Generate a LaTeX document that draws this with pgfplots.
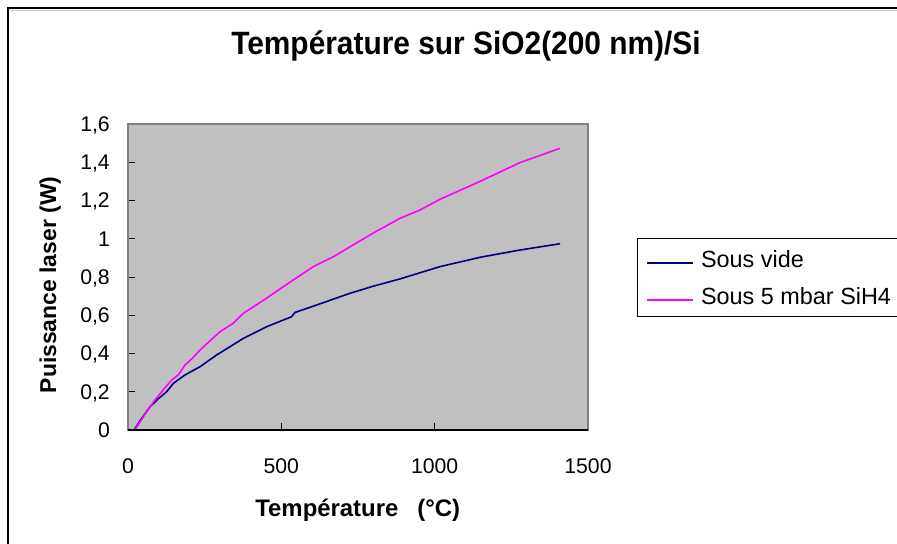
\documentclass[border=0pt]{standalone}
\usepackage{pgfplots}
\pgfplotsset{compat=1.18}
\usepackage{fontspec}
\setmainfont{Liberation Sans}
\definecolor{plotgray}{HTML}{C0C0C0}
\definecolor{frame}{HTML}{808080}
\definecolor{navyline}{HTML}{000080}
\definecolor{magline}{HTML}{FF00FF}
\begin{document}
\begin{tikzpicture}
\path[use as bounding box] (0,0) rectangle (897bp,544bp);
\draw[black, line width=1.6bp] (8bp,0bp) -- (8bp,536bp) -- (897bp,536bp);
\draw[gray!45, line width=0.8bp] (9.5bp,534bp) -- (897bp,534bp);
\begin{axis}[
  at={(128bp,114bp)}, anchor=south west,
  width=460bp, height=306bp, scale only axis,
  xmin=0, xmax=1500, ymin=0, ymax=1.6,
  xtick={0,500,1000,1500},
  ytick={0,0.2,0.4,0.6,0.8,1,1.2,1.4,1.6},
  tick pos=left, tick align=inside,
  major tick length=7bp,
  tick style={black, line width=0.8bp},
  axis background/.style={fill=plotgray},
  axis line style={draw=frame, line width=1.2bp},
  clip=false,
  /pgf/number format/assume math mode=true,
  /pgf/number format/use comma,
  /pgf/number format/fixed,
  /pgf/number format/1000 sep={},
  ticklabel style={font=\fontsize{21.3}{25}\selectfont},
  xticklabel style={inner sep=0pt, anchor=north, yshift=-28.5bp},
  yticklabel style={inner sep=0pt, text depth=0pt, anchor=east, xshift=-18bp},
  title={\scalebox{1}[1.08]{Température sur SiO2(200 nm)/Si}},
  title style={font=\fontsize{30}{36}\selectfont\bfseries, at={(axis description cs:0.7348,1.2092)}, anchor=base, inner sep=0pt},
  xlabel={Température\hspace{19bp}(°C)},
  ylabel={Puissance laser (W)},
  every axis x label/.style={at={(axis description cs:0.4995,-0.284)}, anchor=base, font=\fontsize{24}{28}\selectfont\bfseries, inner sep=0pt},
  every axis y label/.style={at={(axis description cs:-0.1565,0.474)}, rotate=90, anchor=base, font=\fontsize{23}{28}\selectfont\bfseries, inner sep=0pt},
  legend style={at={(axis description cs:1.1065,0.627)}, anchor=north west,
    draw=black, fill=white, line width=0.9bp,
    font=\fontsize{23.5}{28}\selectfont,
    inner xsep=9bp, inner ysep=12bp, row sep=20bp, column sep=7bp,
    nodes={inner sep=0pt, text height=17bp, text depth=0bp}},
  legend cell align=left,
  legend image code/.code={\draw[#1] (0bp,-4bp) -- (46bp,-4bp);},
]
\addplot[navyline, line width=1.6bp] coordinates {
(20,0) (40,0.05) (72,0.122) (100,0.165) (126,0.20) (148,0.244) (186,0.288)
(235,0.331) (289,0.392) (376,0.479) (452,0.54) (533,0.592) (545,0.615)
(600,0.645) (724,0.715) (800,0.752) (887,0.79) (1017,0.854) (1148,0.903)
(1278,0.941) (1409,0.974)};
\addlegendentry{Sous vide}
\addplot[magline, line width=1.6bp] coordinates {
(22,0) (61,0.096) (88,0.157) (115,0.21) (142,0.26) (165,0.29) (186,0.34)
(210,0.375) (235,0.418) (270,0.47) (300,0.514) (343,0.558) (376,0.61)
(452,0.689) (507,0.75) (604,0.854) (670,0.906) (724,0.958) (800,1.03)
(887,1.107) (952,1.15) (1017,1.206) (1148,1.30) (1278,1.398) (1409,1.473)};
\addlegendentry{\makebox[210bp][l]{Sous 5 mbar SiH4}}
\draw[black, line width=1.2bp] (rel axis cs:0,0) -- (rel axis cs:1,0);
\end{axis}
\end{tikzpicture}
\end{document}
